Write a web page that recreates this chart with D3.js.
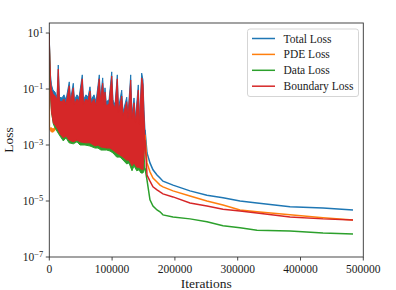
<!DOCTYPE html>
<html lang="en">
<head>
<meta charset="UTF-8">
<title>Loss curves</title>
<script src="https://cdnjs.cloudflare.com/ajax/libs/d3/7.8.5/d3.min.js"></script>
<style>
  body { margin: 0; background: #fff; }
  text { font-family: "Liberation Serif", "Times New Roman", serif; fill: #1a1a1a; }
</style>
</head>
<body>
<script>
// --- noisy (Adam) phase: upper / lower envelopes of each series ---
const topIter = [0, 800, 1900, 3500, 5900, 9100, 12300, 14300, 16200, 20200, 23400, 26600,
  31800, 33800, 38200, 40100, 44100, 47300, 52500, 54500, 58400, 61600, 64800, 66700,
  71200, 74400, 79600, 81500, 85000, 87100, 88700, 90600, 95100, 99400, 101400, 104600,
  108300, 110200, 115300, 117400, 123300, 125300, 129600, 131700, 134900, 137300, 141700, 143600,
  147100, 149200, 150800, 152400];
const totalTop = [10, 1.1, 0.32, 0.14, 0.091, 0.078, 0.051, 0.72, 0.051, 0.048, 0.062, 0.041,
  0.18, 0.041, 0.16, 0.041, 0.062, 0.048, 0.32, 0.041, 0.062, 0.051, 0.12, 0.041,
  0.062, 0.035, 0.32, 0.048, 0.25, 0.041, 0.11, 0.035, 0.041, 0.41, 0.041, 0.027,
  0.32, 0.021, 0.091, 0.015, 0.051, 0.012, 0.32, 0.012, 0.048, 0.0091, 0.14, 0.0078,
  0.37, 0.21, 0.018, 0.0035];
const boundaryTop = [10, 0.91, 0.21, 0.091, 0.066, 0.056, 0.041, 0.51, 0.037, 0.035, 0.044, 0.029,
  0.13, 0.032, 0.11, 0.029, 0.044, 0.035, 0.23, 0.029, 0.044, 0.037, 0.085, 0.029,
  0.044, 0.025, 0.23, 0.035, 0.16, 0.029, 0.078, 0.025, 0.029, 0.29, 0.029, 0.021,
  0.23, 0.015, 0.056, 0.011, 0.035, 0.0085, 0.21, 0.0085, 0.032, 0.0066, 0.091, 0.0056,
  0.25, 0.14, 0.012, 0.0015];

const lowIter = [0, 800, 1900, 3500, 6400, 9100, 13900, 17000, 22300, 26600, 31400, 38200,
  44100, 48900, 56800, 64800, 72800, 77500, 82300, 91400, 96700, 101400, 107300, 112600,
  117400, 123300, 126900, 131700, 134900, 139200, 142800, 146000, 149200, 152400];
const totalLow = [10, 1.1, 0.091, 0.019, 0.0078, 0.0066, 0.0044, 0.0032, 0.0023, 0.0027, 0.0019, 0.0016,
  0.0019, 0.0016, 0.0015, 0.0015, 0.0012, 0.0013, 0.0011, 0.0010, 0.0010, 0.00085, 0.00066, 0.00056,
  0.00048, 0.00037, 0.00037, 0.00023, 0.00029, 0.00021, 0.00021, 0.00018, 0.00016, 0.0035];
const dataLow = [10, 0.72, 0.062, 0.015, 0.0056, 0.0041, 0.0027, 0.0021, 0.0014, 0.0018, 0.0012, 0.0011,
  0.0013, 0.0010, 0.0010, 0.00092, 0.00078, 0.00078, 0.00066, 0.00066, 0.00061, 0.00052, 0.00037, 0.00037,
  0.00029, 0.00021, 0.00023, 0.00012, 0.00018, 0.00012, 0.00013, 0.0001, 0.0001, 0.00015];
const boundaryLow = [10, 0.85, 0.072, 0.015, 0.0061, 0.0052, 0.0035, 0.0025, 0.0018, 0.0021, 0.0015, 0.0013,
  0.0015, 0.0013, 0.0012, 0.0012, 0.00092, 0.0010, 0.00085, 0.00078, 0.00078, 0.00066, 0.00052, 0.00044,
  0.00037, 0.00029, 0.00029, 0.00018, 0.00023, 0.00016, 0.00016, 0.00014, 0.00013, 0.0015];

const dataTopIter = [0, 800, 1900, 3500, 13900, 31400, 52500, 79600, 99400, 108300, 129600, 141700, 149200, 152400];
const dataTop = [10, 0.48, 0.062, 0.041, 0.018, 0.018, 0.015, 0.015, 0.012, 0.0091, 0.0052, 0.0035, 0.0015, 0.00015];

const pdeIter = [0, 500, 1900, 3500, 5900, 8500, 10500, 12300, 13900, 31400, 52500, 79600, 99400, 108300, 129600, 141700, 149200, 152400];
const pdeTop = [10, 0.0044, 0.0041, 0.0041, 0.0037, 0.0041, 0.0056, 0.018, 0.027, 0.021, 0.021, 0.018, 0.015, 0.012, 0.0066, 0.0052, 0.0023, 0.0023];
const pdeLow = [10, 0.0035, 0.0032, 0.0029, 0.0029, 0.0032, 0.0041, 0.0037, 0.0037, 0.0016, 0.0014, 0.0011, 0.00078, 0.00056, 0.00025, 0.00018, 0.00015, 0.0023];

// --- smooth (L-BFGS) phase ---
const smoothIter = [152400, 155600, 160300, 165100, 171500, 176300, 181000, 197000, 224000, 251000, 276600, 303700, 330700, 383300, 435800, 483600];
const totalLoss = [0.0035, 0.00052, 0.00023, 0.00013, 8.5e-5, 6.6e-5, 5.1e-5, 3.7e-5, 2.3e-5, 1.6e-5, 1.3e-5, 1.0e-5, 8.5e-6, 6.2e-6, 5.6e-6, 4.8e-6];
const pdeLoss = [0.0023, 0.00023, 0.00011, 6.6e-5, 4.8e-5, 3.7e-5, 3.2e-5, 2.3e-5, 1.5e-5, 1.0e-5, 7.2e-6, 4.8e-6, 4.1e-6, 3.2e-6, 2.5e-6, 2.1e-6];
const dataLoss = [0.00015, 5.6e-5, 1.1e-5, 6.6e-6, 4.8e-6, 4.1e-6, 3.2e-6, 2.7e-6, 2.3e-6, 1.8e-6, 1.3e-6, 1.1e-6, 9.1e-7, 8.5e-7, 7.2e-7, 6.6e-7];
const boundaryLoss = [0.0015, 8.5e-5, 5.1e-5, 3.2e-5, 2.5e-5, 2.1e-5, 1.8e-5, 1.4e-5, 8.5e-6, 6.6e-6, 5.1e-6, 4.4e-6, 3.7e-6, 2.7e-6, 2.3e-6, 2.1e-6];

const seriesNames = ['Total Loss', 'PDE Loss', 'Data Loss', 'Boundary Loss'];
const colors = ['#1f77b4', '#ff7f0e', '#2ca02c', '#d62728'];
const xTicks = [0, 100000, 200000, 300000, 400000, 500000];
const yTickExp = [1, -1, -3, -5, -7];

const w = 396, h = 290;
const m = { left: 49.3, right: 363.3, top: 23, bottom: 257 };

const x = d3.scaleLinear().domain([0, 500000]).range([m.left, m.right]);
const y = d3.scaleLog().domain([1e-7, 22.8]).range([m.bottom, m.top]);

const svg = d3.select('body').append('svg').attr('width', w).attr('height', h);

svg.append('clipPath').attr('id', 'clip')
  .append('rect').attr('x', m.left).attr('y', m.top).attr('width', m.right - m.left).attr('height', m.bottom - m.top);

const plot = svg.append('g').attr('clip-path', 'url(#clip)');
const line = d3.line().x(d => x(d[0])).y(d => y(d[1]));

function band(tIter, tVals, lIter, lVals) {
  const up = tIter.map((t, i) => [t, tVals[i]]);
  const lo = lIter.map((t, i) => [t, lVals[i]]).reverse();
  return line(up.concat(lo)) + 'Z';
}

const bands = [
  [topIter, totalTop, lowIter, totalLow],
  [pdeIter, pdeTop, pdeIter, pdeLow],
  [dataTopIter, dataTop, lowIter, dataLow],
  [topIter, boundaryTop, lowIter, boundaryLow]
];
const smooth = [totalLoss, pdeLoss, dataLoss, boundaryLoss];

// draw in plotting order: total, pde, data, boundary
bands.forEach((b, i) => {
  plot.append('path')
    .attr('d', band(b[0], b[1], b[2], b[3]))
    .attr('fill', colors[i])
    .attr('stroke', colors[i])
    .attr('stroke-width', 1)
    .attr('stroke-linejoin', 'round');
  plot.append('path')
    .attr('d', line(smoothIter.map((t, j) => [t, smooth[i][j]])))
    .attr('fill', 'none')
    .attr('stroke', colors[i])
    .attr('stroke-width', 1.5);
});

// frame
svg.append('rect')
  .attr('x', m.left).attr('y', m.top).attr('width', m.right - m.left).attr('height', m.bottom - m.top)
  .attr('fill', 'none').attr('stroke', '#333').attr('stroke-width', 0.9);

// x axis
const xg = svg.append('g');
xTicks.forEach(t => {
  xg.append('line').attr('x1', x(t)).attr('x2', x(t)).attr('y1', m.bottom).attr('y2', m.bottom + 3.5)
    .attr('stroke', '#333').attr('stroke-width', 0.9);
  xg.append('text').attr('x', x(t)).attr('y', 273).attr('text-anchor', 'middle')
    .attr('font-size', 11.5).text(t);
});
svg.append('text').attr('x', (m.left + m.right) / 2).attr('y', 287.5).attr('text-anchor', 'middle')
  .attr('font-size', 13.5).text('Iterations');

// y axis
const yg = svg.append('g');
yTickExp.forEach(e => {
  const v = Math.pow(10, e);
  yg.append('line').attr('x1', m.left - 3.5).attr('x2', m.left).attr('y1', y(v)).attr('y2', y(v))
    .attr('stroke', '#333').attr('stroke-width', 0.9);
  const t = yg.append('text').attr('x', m.left - 6).attr('y', y(v) + 4).attr('text-anchor', 'end')
    .attr('font-size', 11.5);
  t.append('tspan').text('10');
  t.append('tspan').attr('dy', -4.5).attr('font-size', 8.5).text(String(e).replace('-', '\u2212'));
});
svg.append('text').attr('transform', `translate(12.7, ${(m.top + m.bottom) / 2}) rotate(-90)`)
  .attr('text-anchor', 'middle').attr('font-size', 13.5).text('Loss');

// legend
const lg = svg.append('g');
lg.append('rect').attr('x', 247.5).attr('y', 29).attr('width', 111).attr('height', 67.5)
  .attr('rx', 2.5).attr('fill', 'white').attr('fill-opacity', 0.8)
  .attr('stroke', '#d0d0d0').attr('stroke-width', 0.9);
seriesNames.forEach((name, i) => {
  const yy = 38.5 + i * 15.9;
  lg.append('line').attr('x1', 252).attr('x2', 275).attr('y1', yy).attr('y2', yy)
    .attr('stroke', colors[i]).attr('stroke-width', 1.5);
  lg.append('text').attr('x', 283.5).attr('y', yy + 4).attr('font-size', 11.5).text(name);
});
</script>
</body>
</html>
